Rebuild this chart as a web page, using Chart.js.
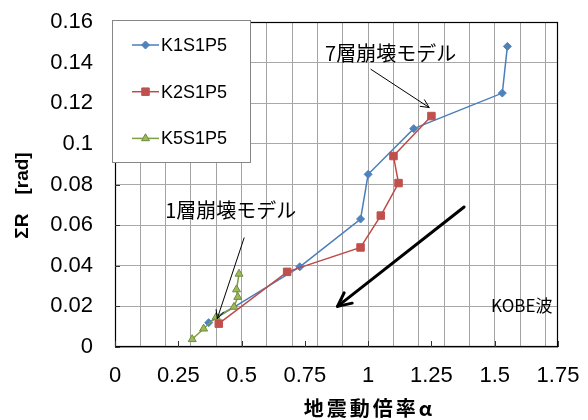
<!DOCTYPE html>
<html>
<head>
<meta charset="utf-8">
<script src="https://cdn.jsdelivr.net/npm/chart.js@4/dist/chart.umd.min.js"></script>
<style>
  html, body { margin: 0; padding: 0; background: #ffffff; }
  #wrap { width: 588px; height: 420px; }
</style>
</head>
<body>
<div id="wrap"><canvas id="c" width="588" height="420"></canvas></div>
<script>
// Series: ground-motion scale factor (alpha) vs. cumulative drift ΣR [rad]
const seriesNames = ['K1S1P5', 'K2S1P5', 'K5S1P5'];

const k1Alpha = [1.55, 1.53, 1.18, 1.00, 0.97, 0.73, 0.37];
const k1SumR  = [0.148, 0.125, 0.1075, 0.085, 0.063, 0.0395, 0.012];

const k2Alpha = [1.25, 1.10, 1.12, 1.05, 0.97, 0.68, 0.41];
const k2SumR  = [0.1137, 0.094, 0.0807, 0.0647, 0.049, 0.037, 0.0115];

const k5Alpha = [0.49, 0.48, 0.485, 0.47, 0.40, 0.35, 0.305];
const k5SumR  = [0.036, 0.0283, 0.0246, 0.0197, 0.0148, 0.009, 0.0038];

// Axis ticks and labels
const xTickValues = [0, 0.25, 0.5, 0.75, 1, 1.25, 1.5, 1.75];
const xTickLabels = ['0', '0.25', '0.5', '0.75', '1', '1.25', '1.5', '1.75'];
const yTickValues = [0, 0.02, 0.04, 0.06, 0.08, 0.1, 0.12, 0.14, 0.16];
const yTickLabels = ['0', '0.02', '0.04', '0.06', '0.08', '0.1', '0.12', '0.14', '0.16'];
const xGridValues = [0.1, 0.2, 0.3, 0.4, 0.5, 0.6, 0.7, 0.8, 0.9, 1.0, 1.1, 1.2, 1.3, 1.4, 1.5, 1.6, 1.7];

const xTitle = '地震動倍率α';
const yTitle = 'ΣR\u3000[rad]';
const waveLabel = 'KOBE波';

// Callouts, placed in data units
const notes = [
  { text: '7層崩壊モデル', x: 1.089, y: 0.1445 },
  { text: '1層崩壊モデル', x: 0.457, y: 0.0673 }
];
const arrows = [
  { from: [1.011, 0.1367], to: [1.241, 0.1179], width: 1, head: 9 },
  { from: [0.510, 0.0537], to: [0.404, 0.0140], width: 1, head: 9 },
  { from: [1.379, 0.0689], to: [0.879, 0.0200], width: 3, head: 15 }
];

const LATIN = '"Liberation Sans", Arial, sans-serif';
const CJK = '"Noto Sans CJK JP", "Liberation Sans", sans-serif';

function toPoints(xs, ys) {
  return xs.map((x, i) => ({ x: x, y: ys[i] }));
}

const datasets = [
  {
    label: seriesNames[0],
    data: toPoints(k1Alpha, k1SumR),
    showLine: true,
    borderColor: '#4A7EBB',
    backgroundColor: '#4F81BD',
    pointBorderColor: '#4F81BD',
    pointBackgroundColor: '#4F81BD',
    borderWidth: 1.5,
    pointStyle: 'rectRot',
    pointRadius: 4,
    pointBorderWidth: 1,
    order: 3
  },
  {
    label: seriesNames[1],
    data: toPoints(k2Alpha, k2SumR),
    showLine: true,
    borderColor: '#BE4B48',
    backgroundColor: '#C0504D',
    pointBorderColor: '#C0504D',
    pointBackgroundColor: '#C0504D',
    borderWidth: 1.5,
    pointStyle: 'rect',
    pointRadius: 5.3,
    pointBorderWidth: 1,
    order: 2
  },
  {
    label: seriesNames[2],
    data: toPoints(k5Alpha, k5SumR),
    showLine: true,
    borderColor: '#7E9E42',
    backgroundColor: '#9BBB59',
    pointBorderColor: '#71893F',
    pointBackgroundColor: '#9BBB59',
    borderWidth: 1.5,
    pointStyle: 'triangle',
    pointRadius: 4.6,
    pointBorderWidth: 1,
    order: 1
  }
];

function drawArrow(ctx, x1, y1, x2, y2, width, head) {
  const ang = Math.atan2(y2 - y1, x2 - x1);
  const spread = Math.PI / 7;
  ctx.save();
  ctx.strokeStyle = '#000';
  ctx.lineWidth = width;
  ctx.lineCap = 'round';
  ctx.lineJoin = 'round';
  ctx.beginPath();
  ctx.moveTo(x1, y1);
  ctx.lineTo(x2, y2);
  ctx.stroke();
  ctx.beginPath();
  ctx.moveTo(x2 - head * Math.cos(ang - spread), y2 - head * Math.sin(ang - spread));
  ctx.lineTo(x2, y2);
  ctx.lineTo(x2 - head * Math.cos(ang + spread), y2 - head * Math.sin(ang + spread));
  ctx.stroke();
  ctx.restore();
}

const decorations = {
  id: 'decorations',
  afterDatasetsDraw(chart) {
    const ctx = chart.ctx;
    const a = chart.chartArea;
    const xs = chart.scales.x;
    const ys = chart.scales.y;

    ctx.save();
    // plot frame
    ctx.strokeStyle = '#000';
    ctx.lineWidth = 1.2;
    ctx.strokeRect(a.left + 0.5, a.top + 0.5, a.right - a.left - 1, a.bottom - a.top - 1);

    // inward tick marks
    ctx.strokeStyle = '#333';
    ctx.lineWidth = 1;
    ctx.beginPath();
    xTickValues.forEach(v => {
      const px = Math.round(xs.getPixelForValue(v)) + 0.5;
      ctx.moveTo(px, a.bottom);
      ctx.lineTo(px, a.bottom - 6);
    });
    yTickValues.forEach(v => {
      const py = Math.round(ys.getPixelForValue(v)) + 0.5;
      ctx.moveTo(a.left, py);
      ctx.lineTo(a.left + 5, py);
    });
    ctx.stroke();

    // callout texts
    ctx.fillStyle = '#000';
    ctx.textBaseline = 'middle';
    ctx.textAlign = 'center';
    ctx.font = '20px ' + CJK;
    notes.forEach(n => {
      ctx.fillText(n.text, xs.getPixelForValue(n.x), ys.getPixelForValue(n.y));
    });

    // arrows
    arrows.forEach(ar => {
      drawArrow(ctx,
        xs.getPixelForValue(ar.from[0]), ys.getPixelForValue(ar.from[1]),
        xs.getPixelForValue(ar.to[0]), ys.getPixelForValue(ar.to[1]),
        ar.width, ar.head);
    });

    // wave name
    ctx.textAlign = 'right';
    ctx.font = '17px ' + CJK;
    ctx.fillText(waveLabel, xs.getPixelForValue(1.728), ys.getPixelForValue(0.0203));

    // legend box
    const lx = a.left - 3, ly = a.top - 2, lw = 138, lh = 142;
    ctx.fillStyle = '#fff';
    ctx.fillRect(lx, ly, lw, lh);
    ctx.strokeStyle = '#868686';
    ctx.lineWidth = 1;
    ctx.strokeRect(lx + 0.5, ly + 0.5, lw, lh);
    chart.data.datasets.forEach((ds, i) => {
      const cy = ly + 25 + i * 46.7;
      ctx.strokeStyle = ds.borderColor;
      ctx.lineWidth = ds.borderWidth;
      ctx.beginPath();
      ctx.moveTo(lx + 20, cy);
      ctx.lineTo(lx + 47, cy);
      ctx.stroke();
      ctx.fillStyle = ds.pointBackgroundColor;
      ctx.strokeStyle = ds.pointBorderColor;
      ctx.lineWidth = ds.pointBorderWidth;
      Chart.helpers.drawPoint(ctx, { pointStyle: ds.pointStyle, radius: ds.pointRadius, rotation: 0, borderWidth: ds.pointBorderWidth }, lx + 33.5, cy);
      ctx.fillStyle = '#000';
      ctx.textAlign = 'left';
      ctx.textBaseline = 'middle';
      ctx.font = '18px ' + LATIN;
      ctx.fillText(ds.label, lx + 49, cy + 1);
    });

    // axis titles
    ctx.fillStyle = '#000';
    ctx.textAlign = 'center';
    ctx.textBaseline = 'middle';
    ctx.font = 'bold 20px ' + CJK;
    if ('letterSpacing' in ctx) ctx.letterSpacing = '3px';
    ctx.fillText(xTitle, (a.left + a.right) / 2 + 33, a.bottom + 61);
    if ('letterSpacing' in ctx) ctx.letterSpacing = '0px';

    ctx.save();
    ctx.translate(23, (a.top + a.bottom) / 2 + 11);
    ctx.rotate(-Math.PI / 2);
    ctx.font = 'bold 19px ' + LATIN;
    ctx.fillText(yTitle, 0, 0);
    ctx.restore();

    ctx.restore();
  }
};

new Chart(document.getElementById('c'), {
  type: 'scatter',
  data: { datasets: datasets },
  options: {
    responsive: false,
    devicePixelRatio: 1,
    animation: false,
    events: [],
    layout: { padding: { left: 0, right: 30, top: 22, bottom: 0 } },
    plugins: {
      legend: { display: false },
      title: { display: false },
      tooltip: { enabled: false }
    },
    scales: {
      x: {
        type: 'linear',
        position: 'bottom',
        min: 0,
        max: 1.75,
        afterBuildTicks: s => { s.ticks = xTickValues.map(v => ({ value: v })); },
        afterFit: s => { s.height = 73; s.paddingLeft = 0; s.paddingRight = 0; },
        ticks: {
          callback: (v, i) => xTickLabels[i],
          font: { family: LATIN, size: 22 },
          color: '#000',
          padding: 16,
          maxRotation: 0,
          autoSkip: false
        },
        grid: { display: false, drawTicks: false },
        border: { display: false }
      },
      xg: {
        type: 'linear',
        position: 'bottom',
        min: 0,
        max: 1.75,
        afterBuildTicks: s => { s.ticks = xGridValues.map(v => ({ value: v })); },
        afterFit: s => { s.height = 0; s.paddingLeft = 0; s.paddingRight = 0; },
        ticks: { display: false },
        grid: { color: '#a3a3a3', lineWidth: 1, drawTicks: false },
        border: { display: false }
      },
      y: {
        type: 'linear',
        min: 0,
        max: 0.16,
        afterBuildTicks: s => { s.ticks = yTickValues.map(v => ({ value: v })); },
        afterFit: s => { s.width = 115; s.paddingTop = 0; s.paddingBottom = 0; },
        ticks: {
          callback: (v, i) => yTickLabels[i],
          font: { family: LATIN, size: 22 },
          color: '#000',
          padding: 22,
          autoSkip: false
        },
        grid: { color: '#a8a8a8', lineWidth: 1, drawTicks: false },
        border: { display: false }
      }
    }
  },
  plugins: [decorations]
});
</script>
</body>
</html>
